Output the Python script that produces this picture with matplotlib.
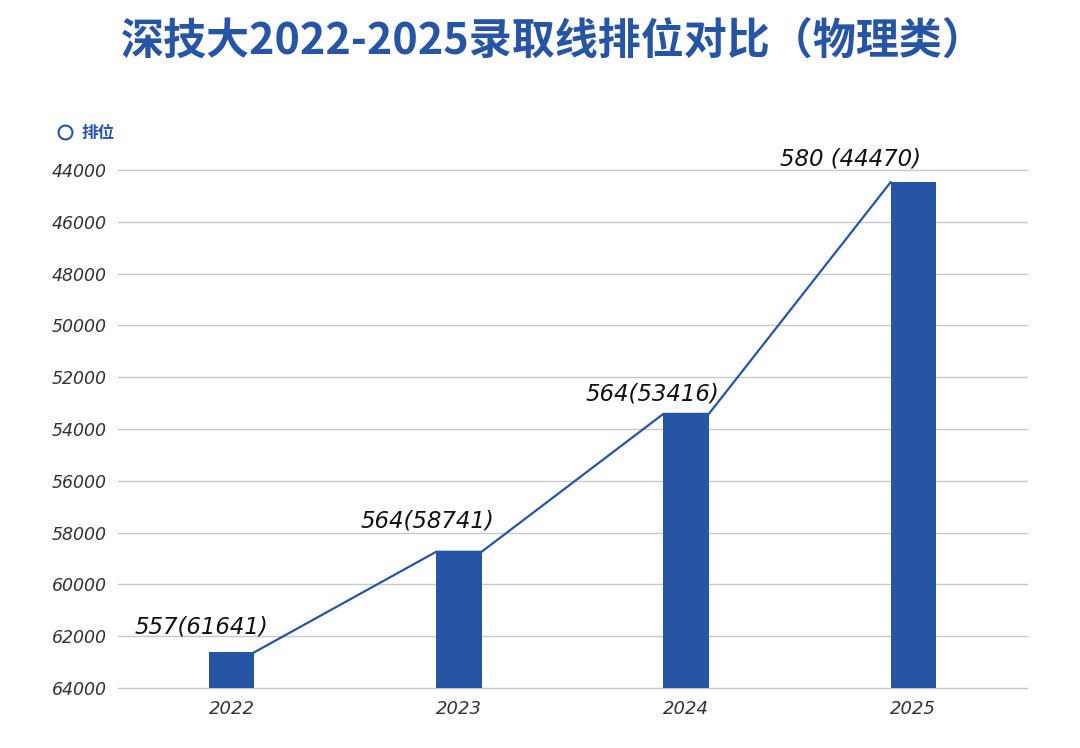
import matplotlib
matplotlib.use("Agg")
import matplotlib.pyplot as plt
from matplotlib.lines import Line2D

years = ["2022", "2023", "2024", "2025"]
bar_rank = [62620, 58741, 53416, 44470]
labels = ["557(61641)", "564(58741)", "564(53416)", "580 (44470)"]
yticks = [44000, 46000, 48000, 50000, 52000, 54000, 56000, 58000, 60000, 62000, 64000]
title = "深技大2022-2025录取线排位对比（物理类）"
legend_label = "排位"

BLUE = "#2755A6"
cjk = ["Noto Sans CJK SC", "DejaVu Sans"]

fig = plt.figure(figsize=(10.8, 7.48), dpi=100)
ax = fig.add_axes([118/1080, 1-688/748, (1027-118)/1080, (688-170)/748])

x = list(range(len(years)))
w = 0.2
base = 64000
ax.bar(x, [v - base for v in bar_rank], bottom=base, width=w, color=BLUE, zorder=3)

# connecting line: right corner of each bar to left corner of next
lx, ly = [], []
for i, v in enumerate(bar_rank):
    lx += [i - w/2, i + w/2]
    ly += [v, v]
ax.plot(lx[1:-1], ly[1:-1], color=BLUE, lw=1.6, zorder=2)

ax.set_xlim(-0.5, 3.5)
ax.set_ylim(64000, 44000)
ax.set_yticks(yticks)
ax.set_yticklabels([str(t) for t in yticks], fontsize=12.5, style="italic", color="#333333")
ax.set_xticks(x)
ax.set_xticklabels(years, fontsize=13, style="italic", color="#333333")
ax.tick_params(axis="both", length=0)
ax.tick_params(axis="y", pad=8)
ax.tick_params(axis="x", pad=9)
for s in ax.spines.values():
    s.set_visible(False)
ax.grid(axis="y", color="#c8c8c8", lw=1.0, zorder=0)
ax.set_axisbelow(True)
for gl in ax.get_ygridlines():
    gl.set_clip_on(False)

offsets = [(-21.6, 18), (-22.3, 22.3), (-24.2, 14.4), (-45, 16.6)]
for i, (v, lab) in enumerate(zip(bar_rank, labels)):
    ax.annotate(lab, (i, v), xytext=offsets[i], textcoords="offset points",
                ha="center", va="center", fontsize=16.5, style="italic", color="#111111")

fig.text(553/1080, 1-41/748, title, ha="center", va="center", fontsize=31,
         fontweight="bold", color=BLUE, family=cjk)

h = Line2D([], [], marker="o", ls="none", markerfacecolor="none",
           markeredgecolor=BLUE, markersize=10, markeredgewidth=1.5)
leg = fig.legend([h], [legend_label], loc="center left",
                 bbox_to_anchor=(50/1080, 1-133/748), frameon=False,
                 prop={"family": cjk, "size": 12, "weight": "bold"},
                 handletextpad=0.5, handlelength=1.0, borderaxespad=0)
for t in leg.get_texts():
    t.set_color(BLUE)

fig.savefig("out.png", dpi=100, facecolor="white")
